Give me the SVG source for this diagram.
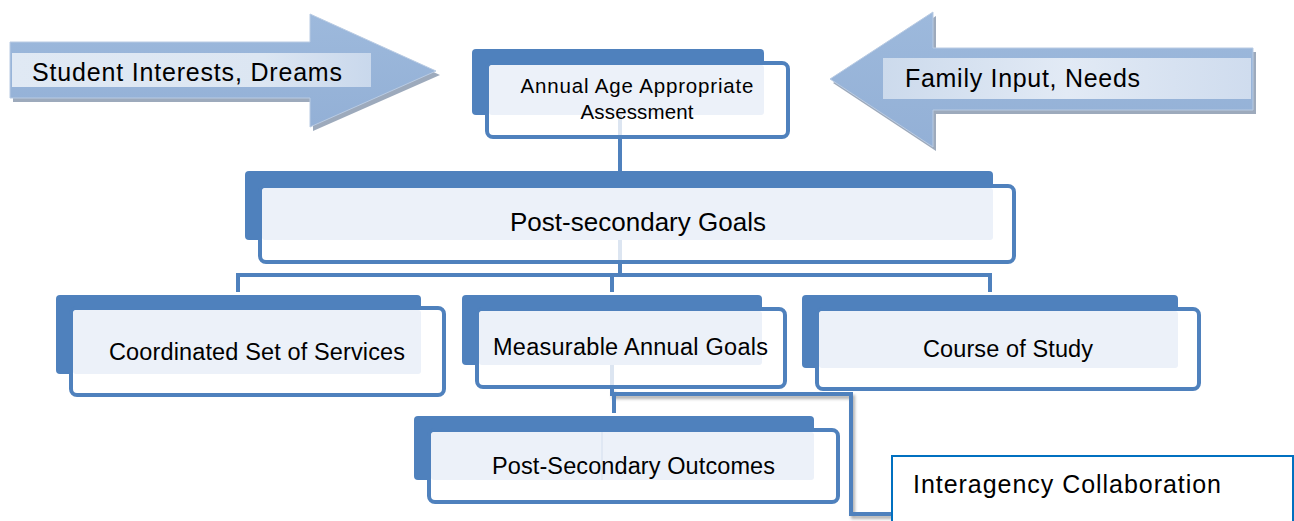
<svg xmlns="http://www.w3.org/2000/svg" width="1294" height="521" viewBox="0 0 1294 521">
<defs>
<style>
.back{fill:#4F81BD}
.front{fill:#FFFFFF;stroke:#4F81BD;stroke-width:4}
.light{fill:#ECF1F9}
.lbl{font-family:"Liberation Sans",Arial,sans-serif;fill:#000000}
.conn{fill:none;stroke:#4F81BD;stroke-width:4}
.ghost{fill:none;stroke:#DCE5F1;stroke-width:4}
.ashadow{fill:#8C9BB0;opacity:0.85}
.afill{fill:url(#arrowGrad);stroke:#B9CBE3;stroke-width:1}
</style>
<linearGradient id="arrowGrad" x1="0" y1="0" x2="0" y2="1">
<stop offset="0" stop-color="#9DB9DC"/>
<stop offset="1" stop-color="#93B0D6"/>
</linearGradient>
<linearGradient id="bandL" x1="0" y1="0" x2="1" y2="0">
<stop offset="0" stop-color="#E0E9F4"/>
<stop offset="0.7" stop-color="#DCE6F2"/>
<stop offset="1" stop-color="#C9D8EC"/>
</linearGradient>
<linearGradient id="bandR" x1="0" y1="0" x2="1" y2="0">
<stop offset="0" stop-color="#CCDAEC"/>
<stop offset="0.5" stop-color="#E2EAF5"/>
<stop offset="1" stop-color="#CFDCEE"/>
</linearGradient>
<filter id="sh" x="-10%" y="-10%" width="130%" height="130%">
<feDropShadow dx="2" dy="3" stdDeviation="1.5" flood-color="#000" flood-opacity="0.3"/>
</filter>
</defs>

<g id="arrow-student">
<polygon class="ashadow" points="13,46 313,46 313,18 440,75 313,131 313,102 13,102"/>
<polygon class="afill" points="10,42 310,42 310,14 436,71 310,127 310,98 10,98"/>
<rect x="12" y="53" width="359" height="34" fill="url(#bandL)"/>
<text class="lbl" x="32" y="81" font-size="25" textLength="310">Student Interests, Dreams</text>
</g>

<g id="arrow-family">
<polygon class="ashadow" points="833,83 936,16 936,52 1256,52 1256,114 936,114 936,151"/>
<polygon class="afill" points="830,79 933,12 933,48 1253,48 1253,110 933,110 933,147"/>
<rect x="883" y="58" width="368" height="41" fill="url(#bandR)"/>
<text class="lbl" x="905" y="87" font-size="25" textLength="235">Family Input, Needs</text>
</g>

<g id="connectors">
<line class="conn" x1="620" y1="138" x2="620" y2="172"/>
<line class="conn" x1="620" y1="262" x2="620" y2="275"/>
<polyline class="conn" points="238,292 238,275 990,275 990,292"/>
<line class="conn" x1="612" y1="275" x2="612" y2="292"/>
<g filter="url(#sh)">
<polyline class="conn" points="612,389 612,394 851,394 851,514 894,514"/>
</g>
<line class="conn" x1="614" y1="394" x2="614" y2="413"/>
</g>

<g id="node-assessment">
<rect class="back" x="472" y="49" width="292" height="66" rx="4"/>
<rect class="front" x="487" y="63" width="301" height="74" rx="6"/>
<rect class="light" x="489" y="65" width="275" height="50" rx="3"/>
<line class="ghost" x1="620" y1="115" x2="620" y2="135"/>
<text class="lbl" x="637" y="93" font-size="20.5" text-anchor="middle" textLength="233">Annual Age Appropriate</text>
<text class="lbl" x="637" y="119" font-size="20.5" text-anchor="middle" textLength="113">Assessment</text>
</g>

<g id="node-postsecondary-goals">
<rect class="back" x="245" y="171" width="748" height="69" rx="4"/>
<rect class="front" x="260" y="186" width="754" height="76" rx="6"/>
<rect class="light" x="262" y="188" width="731" height="52" rx="3"/>
<line class="ghost" x1="620" y1="240" x2="620" y2="260"/>
<text class="lbl" x="638" y="231" font-size="26" text-anchor="middle" textLength="256">Post-secondary Goals</text>
</g>

<g id="node-coordinated">
<rect class="back" x="56" y="295" width="365" height="79" rx="4"/>
<rect class="front" x="71" y="308" width="373" height="87" rx="6"/>
<rect class="light" x="73" y="310" width="348" height="64" rx="3"/>
<text class="lbl" x="109" y="360" font-size="23.5" textLength="296">Coordinated Set of Services</text>
</g>

<g id="node-measurable">
<rect class="back" x="462" y="295" width="300" height="70" rx="4"/>
<rect class="front" x="477" y="309" width="308" height="78" rx="6"/>
<rect class="light" x="479" y="311" width="283" height="54" rx="3"/>
<line class="ghost" x1="612" y1="365" x2="612" y2="385"/>
<text class="lbl" x="493" y="355" font-size="23.5" textLength="275">Measurable Annual Goals</text>
</g>

<g id="node-course">
<rect class="back" x="802" y="295" width="376" height="73" rx="4"/>
<rect class="front" x="817" y="309" width="382" height="80" rx="6"/>
<rect class="light" x="819" y="311" width="359" height="57" rx="3"/>
<text class="lbl" x="923" y="357" font-size="23.5" textLength="170">Course of Study</text>
</g>

<g id="node-outcomes">
<rect class="back" x="414" y="416" width="400" height="64" rx="4"/>
<rect class="front" x="429" y="430" width="409" height="72" rx="6"/>
<rect class="light" x="431" y="432" width="383" height="48" rx="3"/>
<line x1="602" y1="432" x2="602" y2="480" stroke="#D3DEEE" stroke-width="1"/>
<text class="lbl" x="492" y="474" font-size="23.5" textLength="283">Post-Secondary Outcomes</text>
</g>

<g id="node-interagency">
<rect x="892" y="456" width="401" height="80" fill="#FFFFFF" stroke="#0070C0" stroke-width="2"/>
<text class="lbl" x="913" y="493" font-size="25" textLength="308">Interagency Collaboration</text>
</g>
</svg>
